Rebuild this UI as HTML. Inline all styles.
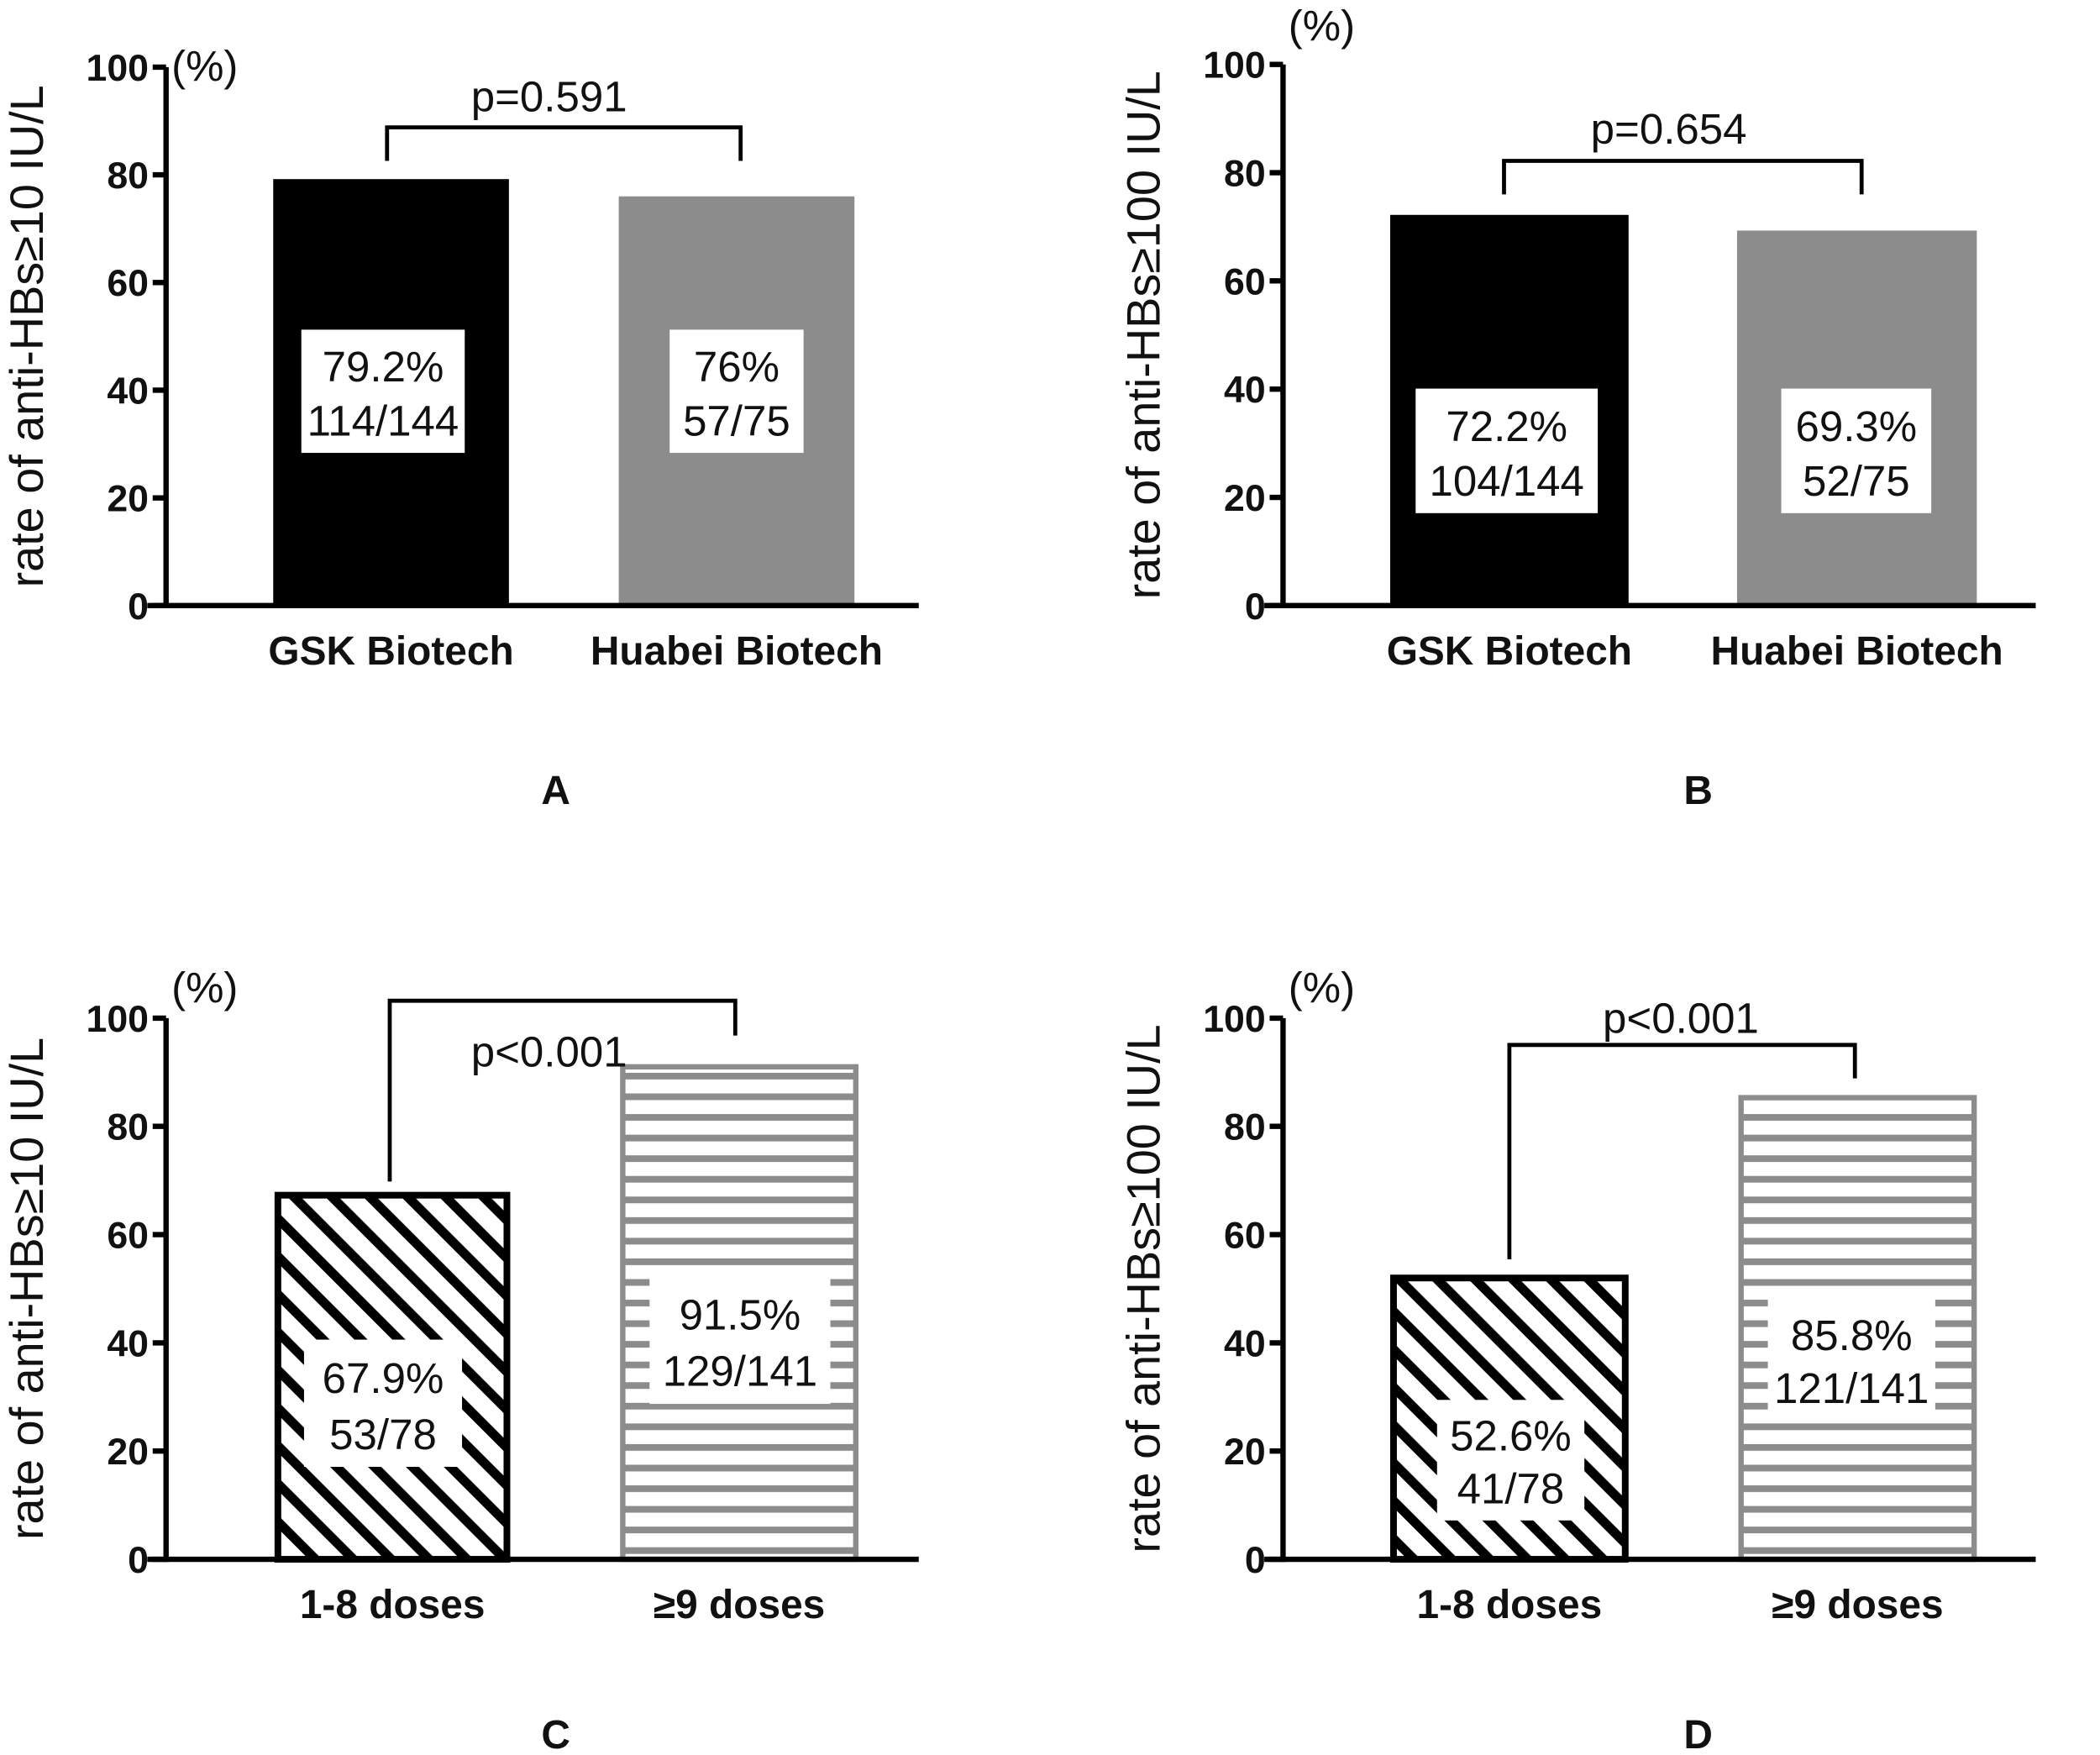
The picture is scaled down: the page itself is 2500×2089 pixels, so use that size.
<!DOCTYPE html>
<html><head><meta charset="utf-8">
<style>
html,body{margin:0;padding:0;background:#fff;}
svg{display:block;font-family:"Liberation Sans",Arial,sans-serif;}
</style></head>
<body>
<svg id="fig" width="2500" height="2089" viewBox="0 0 1568 1310" xmlns="http://www.w3.org/2000/svg">
<defs>
<pattern id="hatch" patternUnits="userSpaceOnUse" width="20" height="20" patternTransform="rotate(-45)">
<rect width="20" height="20" fill="#fff"/><rect x="0" y="0" width="7" height="20" fill="#000"/>
</pattern>
<pattern id="stripes" patternUnits="userSpaceOnUse" width="20" height="15.4">
<rect width="20" height="15.4" fill="#fff"/><rect x="0" y="0" width="20" height="5" fill="#8c8c8c"/>
</pattern>
</defs>
<g id="root"></g>
</svg>
<script>
const panelIds = ["A","B","C","D"];
const titles = ["rate of anti-HBs\u226510 IU/L","rate of anti-HBs\u2265100 IU/L","rate of anti-HBs\u226510 IU/L","rate of anti-HBs\u2265100 IU/L"];
const catsAB = ["GSK Biotech","Huabei Biotech"];
const catsCD = ["1-8 doses","\u22659 doses"];
const valuesA = [79.2, 76];
const valuesB = [72.2, 69.3];
const valuesC = [67.9, 91.5];
const valuesD = [52.6, 85.8];
const pctLabels = [["79.2%","76%"],["72.2%","69.3%"],["67.9%","91.5%"],["52.6%","85.8%"]];
const fracLabels = [["114/144","57/75"],["104/144","52/75"],["53/78","129/141"],["41/78","121/141"]];
const pTexts = ["p=0.591","p=0.654","p<0.001","p<0.001"];
const yTicks = [0,20,40,60,80,100];

const NS="http://www.w3.org/2000/svg";
const root=document.getElementById('root');
function mk(tag,attrs,parent,text){const e=document.createElementNS(NS,tag);for(const k in attrs)e.setAttribute(k,attrs[k]);if(text!==undefined)e.textContent=text;(parent||root).appendChild(e);return e;}

const layouts=[
 {ax:124,y0:452,y100:50,bars:[[204,380],[462,638]],pct:[128,50],box:[[225,246,122,92],[500,246,100,92]],letter:[415,600],catY:496},
 {ax:958,y0:452,y100:48,bars:[[1038,1216],[1297,1476]],pct:[962,20],box:[[1057,290,136,93],[1330,290,112,93]],letter:[1268,600],catY:496},
 {ax:124,y0:1164,y100:760,bars:[[205,381],[463,641]],pct:[128,738],box:[[227,1000,118,95],[485,952,135,96]],letter:[415,1305],catY:1208},
 {ax:958,y0:1164,y100:760,bars:[[1038,1216],[1298,1476]],pct:[962,738],box:[[1073,1045,110,90],[1320,970,125,90]],letter:[1268,1305],catY:1208}
];
const brackets=[
 {x1:289,x2:553,top:95,l:120,r:120,px:410,py:83},
 {x1:1123,x2:1390,top:120,l:145,r:145,px:1246,py:107},
 {x1:291,x2:549,top:747,l:882,r:773,px:410,py:796},
 {x1:1127,x2:1385,top:780,l:940,r:805,px:1255,py:771}
];
const allVals=[valuesA,valuesB,valuesC,valuesD];

layouts.forEach((L,i)=>{
 const g=mk('g',{});
 
 
 const yScale=v=>L.y0+(L.y100-L.y0)*v/100;
 const cats=i<2?catsAB:catsCD;
 allVals[i].forEach((v,j)=>{
  const [x1,x2]=L.bars[j];
  const yt=yScale(v);
  let fill, stroke='none', sw=0;
  if(i<2){fill=j===0?'#000':'#8c8c8c';}
  else if(j===0){fill='url(#hatch)';stroke='#000';sw=5;}
  else {fill='url(#stripes)';stroke='#8c8c8c';sw=4;}
  const r=mk('rect',{x:x1+sw/2,y:yt+sw/2,width:x2-x1-sw,height:L.y0-yt-sw/2,fill:fill,stroke:stroke,'stroke-width':sw},g);
  
  
  const b=L.box[j];
  const bx=mk('rect',{x:b[0],y:b[1],width:b[2],height:b[3],fill:'#fff'},g);
  
  
  const cx=b[0]+b[2]/2;
  const t1=mk('text',{x:cx,y:b[1]+b[3]*0.42,'text-anchor':'middle','font-size':32,fill:'#111'},g,pctLabels[i][j]);
  
  
  const t2=mk('text',{x:cx,y:b[1]+b[3]*0.86,'text-anchor':'middle','font-size':32,fill:'#111'},g,fracLabels[i][j]);
  
  
  const ct=mk('text',{x:(x1+x2)/2,y:L.catY,'text-anchor':'middle','font-size':30,'font-weight':'bold',fill:'#111'},g,cats[j]);
  
  
 });
 const ya=mk('line',{x1:L.ax,y1:L.y100,x2:L.ax,y2:L.y0+2,stroke:'#000','stroke-width':4},g);
 
 
 const xa=mk('line',{x1:L.ax-14,y1:L.y0,x2:L.ax+562,y2:L.y0,stroke:'#000','stroke-width':4},g);
 
 
 yTicks.forEach(t=>{
  const y=yScale(t);
  const tk=mk('line',{x1:L.ax-10,y1:y,x2:L.ax,y2:y,stroke:'#000','stroke-width':4},g);
  
  
  const tl=mk('text',{x:L.ax-13,y:y+10,'text-anchor':'end','font-size':28,'font-weight':'bold',fill:'#111'},g,String(t));
  
  
 });
 const pc=mk('text',{x:L.pct[0],y:L.pct[1]+10,'font-size':32,fill:'#111'},g,'(%)');
 
 
 const ymid=(L.y0+L.y100)/2;
 const tx=L.ax-92;
 const yt=mk('text',{x:tx,y:ymid,'text-anchor':'middle','font-size':35,fill:'#111',transform:'rotate(-90 '+tx+' '+ymid+')'},g,titles[i]);
 
 
 const B=brackets[i];
 const br=mk('polyline',{points:`${B.x1},${B.l} ${B.x1},${B.top} ${B.x2},${B.top} ${B.x2},${B.r}`,fill:'none',stroke:'#000','stroke-width':3},g);
 
 
 const pt=mk('text',{x:B.px,y:B.py,'text-anchor':'middle','font-size':32,fill:'#111'},g,pTexts[i]);
 
 
 const lt=mk('text',{x:L.letter[0],y:L.letter[1],'text-anchor':'middle','font-size':30,'font-weight':'bold',fill:'#111'},g,panelIds[i]);
 
 
});
</script>
</body></html>
